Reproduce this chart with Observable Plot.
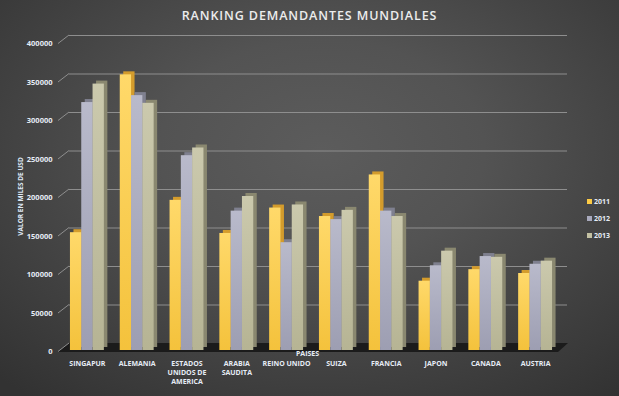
<!DOCTYPE html>
<html>
<head>
<meta charset="utf-8">
<script src="https://cdn.jsdelivr.net/npm/d3@7"></script>
<script src="https://cdn.jsdelivr.net/npm/@observablehq/plot@0.6"></script>
<style>
  html, body { margin: 0; padding: 0; }
  #wrap {
    position: relative; width: 619px; height: 396px; overflow: hidden;
    background: radial-gradient(ellipse 75% 80% at 52% 38%, #5c5c5c 0%, #535353 35%, #414141 70%, #323232 100%);
    font-family: "Open Sans", "Liberation Sans", sans-serif;
  }
  #title {
    height: 30px; line-height: 31px; text-align: center; color: #ececec;
    font-size: 12.5px; font-weight: 600; letter-spacing: 0.9px;
  }
  #legend { position: absolute; left: 587px; top: 193px; font-size: 7px; font-weight: bold; color: #e6ecf5; }
  #legend div { height: 17px; display: flex; align-items: center; }
  #legend span.sw { width: 5px; height: 5px; margin-right: 2px; display: inline-block; }
</style>
</head>
<body>
<div id="wrap">
  <div id="title">RANKING DEMANDANTES MUNDIALES</div>
  <div id="chart"></div>
  <div id="legend"></div>
</div>
<script>
const countries = ["SINGAPUR", "ALEMANIA", "ESTADOS\nUNIDOS DE\nAMERICA", "ARABIA\nSAUDITA", "REINO UNIDO", "SUIZA", "FRANCIA", "JAPON", "CANADA", "AUSTRIA"];
const years = ["2011", "2012", "2013"];
const v2011 = [153000, 358000, 195000, 152000, 185000, 174000, 228000, 90000, 105000, 100000];
const v2012 = [322000, 331000, 253000, 181000, 140000, 170000, 181000, 110000, 122000, 112000];
const v2013 = [346000, 321000, 263000, 200000, 189000, 182000, 174000, 129000, 121000, 116000];
const yTicks = [0, 50000, 100000, 150000, 200000, 250000, 300000, 350000, 400000];
const yTitle = "VALOR EN MILES DE USD";
const xTitle = "PAISES";

const series = [v2011, v2012, v2013];
const frontTop = ["#ffd96a", "#b9bacb", "#cbc9ad"];
const frontBot = ["#f4c23c", "#9d9eb2", "#b6b494"];
const sideCol = ["#d49c2c", "#7f808f", "#8a8870"];
const legendCol = ["#fdcb45", "#a9aabd", "#c3c1a3"];

const barW = 11.3;
const depthX = 3.5, depthY = -3;

const marks = [];
// back wall gridlines
marks.push(Plot.ruleY(yTicks, {dx: 7, dy: -7, stroke: "#8e8e8e", strokeWidth: 1}));
// diagonal tick connectors and floor, drawn with the y scale
marks.push((index, scales, values, dims) => {
  const g = d3.create("svg:g");
  const ml = dims.marginLeft, mr = dims.width - dims.marginRight;
  const y0 = scales.y(0);
  g.append("polygon")
    .attr("points", [[ml - 4, y0 + 2], [ml + 7, y0 - 7], [mr + 8, y0 - 7], [mr - 2, y0 + 2]].map(p => p.join(",")).join(" "))
    .attr("fill", "#1b1b1b");
  for (const t of yTicks) {
    const y = scales.y(t);
    g.append("line").attr("x1", ml - 4).attr("y1", y + 1.5).attr("x2", ml + 7).attr("y2", y - 7)
      .attr("stroke", "#8e8e8e").attr("stroke-width", 1);
  }
  return g.node();
});
series.forEach((vals, i) => {
  const dx = (i - 1) * barW;
  marks.push(Plot.barY(vals, {x: countries, y: vals, dx: dx + depthX, dy: depthY, fill: sideCol[i]}));
  marks.push(Plot.barY(vals, {x: countries, y: vals, dx: dx, fill: `url(#grad${years[i]})`}));
});
marks.push(Plot.axisY({ticks: yTicks, tickSize: 0, tickPadding: 10, tickFormat: d => String(d), label: null,
  dy: 1.5, fontSize: 7.5, fontWeight: "bold", fill: "#e6ecf5"}));
marks.push(Plot.axisX({tickSize: 0, tickPadding: 9, label: null, fontSize: 7, fontWeight: "bold", fill: "#e6ecf5", lineHeight: 1.3}));
marks.push(Plot.text([yTitle], {frameAnchor: "left", textAnchor: "middle", text: d => d, rotate: -90, dx: -42, fontSize: 6.5, fontWeight: "bold", fill: "#dfe8f5"}));
marks.push(Plot.text([xTitle], {frameAnchor: "bottom", text: d => d, dx: -4, dy: 5, fontSize: 7, fontWeight: "bold", fill: "#e6ecf5"}));

const chart = Plot.plot({
  width: 619,
  height: 366,
  marginLeft: 62,
  marginRight: 59,
  marginTop: 12,
  marginBottom: 46,
  style: {background: "transparent", fontFamily: "'Open Sans', 'Liberation Sans', sans-serif", overflow: "visible", color: "#e6ecf5"},
  x: {domain: countries, paddingInner: 1 - barW / 49.8, paddingOuter: (1 - barW / 49.8) / 2, round: false},
  y: {domain: [0, 400000]},
  marks
});

// gradient definitions for bar faces
const ns = "http://www.w3.org/2000/svg";
const defs = document.createElementNS(ns, "defs");
years.forEach((yr, i) => {
  const lg = document.createElementNS(ns, "linearGradient");
  lg.setAttribute("id", "grad" + yr);
  lg.setAttribute("x1", "0"); lg.setAttribute("y1", "0"); lg.setAttribute("x2", "0"); lg.setAttribute("y2", "1");
  [[0, frontTop[i]], [1, frontBot[i]]].forEach(([o, c]) => {
    const s = document.createElementNS(ns, "stop");
    s.setAttribute("offset", o); s.setAttribute("stop-color", c);
    lg.appendChild(s);
  });
  defs.appendChild(lg);
});
chart.insertBefore(defs, chart.firstChild);
document.getElementById("chart").appendChild(chart);

const legend = document.getElementById("legend");
years.forEach((yr, i) => {
  const row = document.createElement("div");
  row.innerHTML = `<span class="sw" style="background:${legendCol[i]}"></span>${yr}`;
  legend.appendChild(row);
});
</script>
</body>
</html>
